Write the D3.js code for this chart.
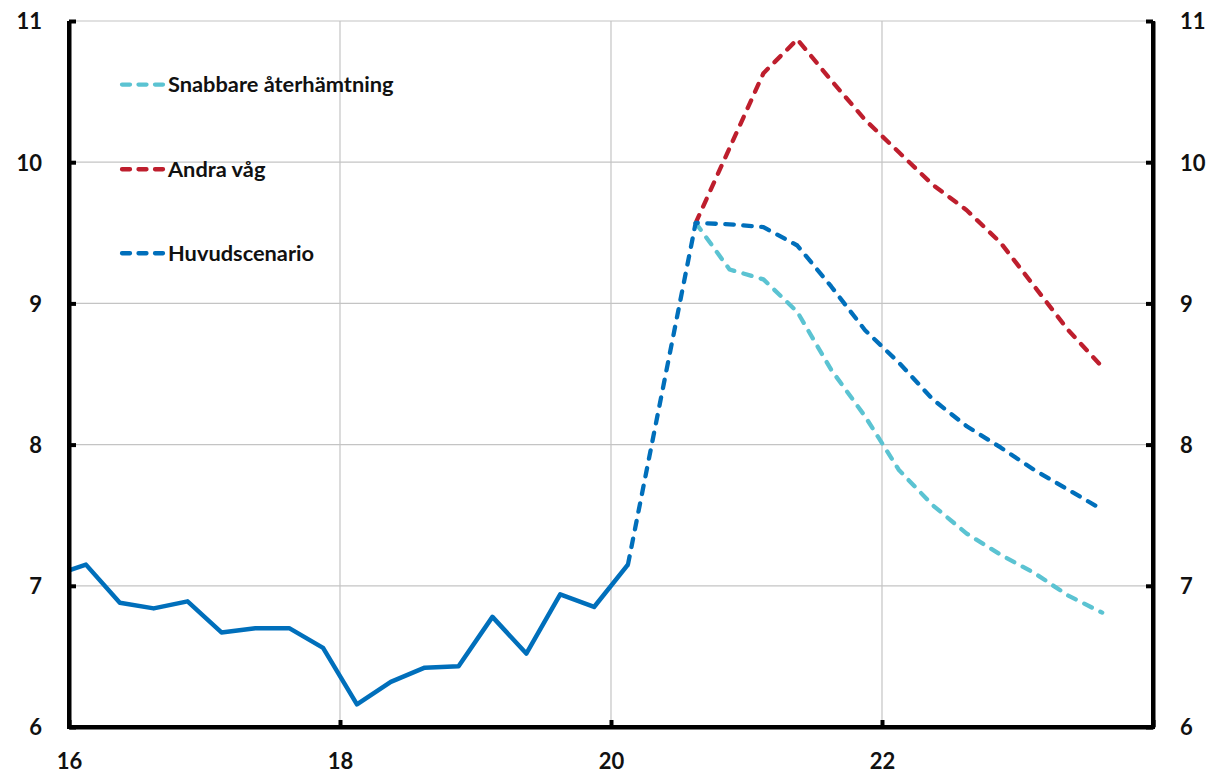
<!DOCTYPE html>
<html>
<head>
<meta charset="utf-8">
<script src="https://cdn.jsdelivr.net/npm/d3@7"></script>
<style>
  html, body { margin: 0; padding: 0; background: #fff; }
  svg text { font-family: Lato, "Liberation Sans", sans-serif; font-weight: 700; fill: #111; }
</style>
</head>
<body>
<svg id="chart" width="1212" height="775"></svg>
<script>
// Quarterly unemployment rate, per cent. Quarters are plotted at mid-quarter.
const histQuarters = ["2015K4","2016K1","2016K2","2016K3","2016K4","2017K1","2017K2","2017K3","2017K4",
                      "2018K1","2018K2","2018K3","2018K4","2019K1","2019K2","2019K3","2019K4","2020K1"];
const histValues = [7.07, 7.15, 6.88, 6.84, 6.89, 6.67, 6.70, 6.70, 6.56,
                    6.16, 6.32, 6.42, 6.43, 6.78, 6.52, 6.94, 6.85, 7.15];

const mainQuarters = ["2020K1","2020K2","2020K3","2020K4","2021K1","2021K2","2021K3","2021K4",
                      "2022K1","2022K2","2022K3","2022K4","2023K1","2023K2","2023K3"];
const mainValues = [7.15, 8.36, 9.57, 9.56, 9.54, 9.41, 9.12, 8.81, 8.58, 8.32, 8.13, 7.98, 7.82, 7.68, 7.54];

const scenQuarters = ["2020K3","2020K4","2021K1","2021K2","2021K3","2021K4",
                      "2022K1","2022K2","2022K3","2022K4","2023K1","2023K2","2023K3"];
const fastValues = [9.57, 9.24, 9.17, 8.94, 8.53, 8.20, 7.82, 7.57, 7.37, 7.22, 7.09, 6.93, 6.81];
const secondWaveValues = [9.57, 10.10, 10.63, 10.87, 10.58, 10.30, 10.07, 9.84, 9.66, 9.43, 9.12, 8.81, 8.55];

const xTicks = [16, 18, 20, 22, 24];
const xTickLabels = ["16", "18", "20", "22", ""];
const yTicks = [6, 7, 8, 9, 10, 11];

const seriesNames = ["Snabbare återhämtning", "Andra våg", "Huvudscenario"];

const colors = { hist: "#006fbb", main: "#006fbb", fast: "#5bc3d2", wave: "#be1e2d" };

// "2016K1" -> 16.125 (mid-quarter, two-digit year)
function qPos(q) {
  const y = +q.slice(2, 4), k = +q.slice(5);
  return y + (k - 1) / 4 + 0.125;
}

const W = 1212, H = 775;
const m = { left: 69, right: 59, top: 21, bottom: 48 };
const svg = d3.select("#chart");

const x = d3.scaleLinear().domain([16, 24]).range([m.left, W - m.right]);
const y = d3.scaleLinear().domain([6, 11]).range([H - m.bottom, m.top]);

// grid
const grid = svg.append("g").attr("stroke", "#c4c4c4").attr("stroke-width", 1.2);
grid.selectAll("line.h").data(yTicks.filter(d => d > 6)).join("line")
  .attr("x1", x(16)).attr("x2", x(24)).attr("y1", d => y(d)).attr("y2", d => y(d));
grid.selectAll("line.v").data(xTicks.filter(d => d > 16 && d < 24)).join("line")
  .attr("x1", d => x(d)).attr("x2", d => x(d)).attr("y1", y(6)).attr("y2", y(11));

// clip
svg.append("clipPath").attr("id", "plot").append("rect")
  .attr("x", x(16)).attr("y", y(11) - 10).attr("width", x(24) - x(16)).attr("height", y(6) - y(11) + 10);

const line = d3.line().x(d => x(d[0])).y(d => y(d[1]));
const zip = (qs, vs) => qs.map((q, i) => [qPos(q), vs[i]]);

const dash = "8.5,9.5";
const g = svg.append("g").attr("clip-path", "url(#plot)").attr("fill", "none")
  .attr("stroke-linecap", "round").attr("stroke-linejoin", "round");

g.append("path").attr("d", line(zip(scenQuarters, secondWaveValues)))
  .attr("stroke", colors.wave).attr("stroke-width", 4.3).attr("stroke-dasharray", dash);
g.append("path").attr("d", line(zip(scenQuarters, fastValues)))
  .attr("stroke", colors.fast).attr("stroke-width", 4.3).attr("stroke-dasharray", dash);
g.append("path").attr("d", line(zip(mainQuarters, mainValues)))
  .attr("stroke", colors.main).attr("stroke-width", 4.3).attr("stroke-dasharray", dash);
g.append("path").attr("d", line(zip(histQuarters, histValues)))
  .attr("stroke", colors.hist).attr("stroke-width", 4.5).attr("stroke-linecap", "butt");

// axes
const axisStyle = sel => {
  sel.select(".domain").attr("stroke", "#000").attr("stroke-width", 4);
  sel.selectAll(".tick line").attr("stroke", "#000").attr("stroke-width", 4);
  sel.selectAll(".tick text").attr("font-size", 22).attr("fill", "#111")
    .style("font-family", "Lato, 'Liberation Sans', sans-serif").style("font-weight", 700);
};

svg.append("g").attr("transform", `translate(${x(16)},0)`)
  .call(d3.axisRight(y).tickValues(yTicks).tickSize(7).tickSizeOuter(0).tickFormat(d3.format("d")))
  .call(axisStyle)
  .call(s => s.selectAll(".tick text").attr("x", -27).attr("text-anchor", "end").attr("dy", "0.36em"));

svg.append("g").attr("transform", `translate(${x(24)},0)`)
  .call(d3.axisLeft(y).tickValues(yTicks).tickSize(7).tickSizeOuter(0).tickFormat(d3.format("d")))
  .call(axisStyle)
  .call(s => s.selectAll(".tick text").attr("x", 27).attr("text-anchor", "start").attr("dy", "0.36em"));

svg.append("g").attr("transform", `translate(0,${y(6)})`)
  .call(d3.axisTop(x).tickValues(xTicks).tickSize(7).tickSizeOuter(0).tickFormat((d, i) => xTickLabels[i]))
  .call(axisStyle)
  .call(s => s.selectAll(".tick text").attr("y", 42).attr("dy", "0"));

// square the axis corners
svg.append("g").attr("fill", "none").attr("stroke", "#000").attr("stroke-width", 4)
  .selectAll("path").data([
    [[x(16), y(11)], [x(16), y(6)], [x(24), y(6)], [x(24), y(11)]]
  ]).join("path").attr("d", d3.line()).attr("stroke-linejoin", "miter");

// legend
const legendRows = [
  { name: seriesNames[0], color: colors.fast, yv: 10.55 },
  { name: seriesNames[1], color: colors.wave, yv: 9.95 },
  { name: seriesNames[2], color: colors.main, yv: 9.355 }
];
const lg = svg.append("g");
legendRows.forEach(r => {
  const yy = y(r.yv);
  lg.append("line").attr("x1", 122).attr("x2", 163).attr("y1", yy).attr("y2", yy)
    .attr("stroke", r.color).attr("stroke-width", 4.3).attr("stroke-linecap", "round")
    .attr("stroke-dasharray", "8,8.5");
  lg.append("text").attr("x", 168).attr("y", yy).attr("dy", "0.36em")
    .attr("font-size", 21.8).text(r.name);
});
</script>
</body>
</html>
